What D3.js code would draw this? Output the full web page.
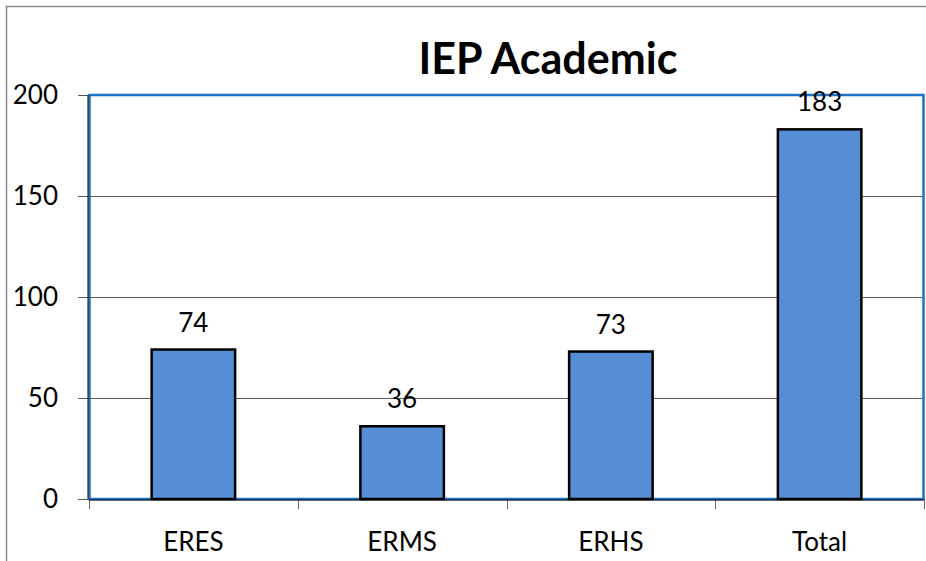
<!DOCTYPE html>
<html>
<head>
<meta charset="utf-8">
<script src="https://d3js.org/d3.v7.min.js"></script>
<style>
    body { margin: 0; background: #fff; }
    svg { display: block; font-family: Lato, "Open Sans", sans-serif; }
    .grid line { stroke: #5a5a5a; stroke-width: 1; shape-rendering: crispEdges; }
    .grid path { stroke-width: 0; }
</style>
</head>
<body>
<svg width="926" height="561"></svg>
<script>
    // chart data
    var categories = ["ERES", "ERMS", "ERHS", "Total"];
    var values = [74, 36, 73, 183];
    var yTicks = [0, 50, 100, 150, 200];
    var title = "IEP Academic";

    var svg = d3.select("svg"),
        margin = { top: 95, right: 2, bottom: 62, left: 89 },
        width = +svg.attr("width") - margin.left - margin.right,
        height = +svg.attr("height") - margin.top - margin.bottom;

    // outer chart frame (left + top edges visible)
    svg.append("path")
        .attr("d", "M6.5,561 V6.5 H926")
        .attr("fill", "none")
        .attr("stroke", "#8c8c8c")
        .attr("stroke-width", 1.5);

    var x = d3.scaleBand()
        .domain(categories)
        .range([0, width])
        .paddingInner(0.6)
        .paddingOuter(0.3);

    // band boundaries for the tick marks
    var step = width / categories.length;

    var y = d3.scaleLinear()
        .domain([0, 200])
        .range([height, 0]);

    var focus = svg.append("g")
        .attr("transform", "translate(" + margin.left + "," + margin.top + ")");

    // grid lines + y labels
    var yAxis = d3.axisLeft(y)
        .tickValues(yTicks)
        .tickSize(-width - 11)
        .tickPadding(20)
        .tickFormat(d3.format("d"));

    var gy = focus.append("g")
        .attr("class", "grid")
        .attr("transform", "translate(" + (-11) + ",0)")
        .call(yAxis);
    gy.select(".domain").remove();
    gy.selectAll("text")
        .attr("x", -20)
        .attr("font-size", 26)
        .attr("fill", "#000")
        .attr("font-family", "Lato, sans-serif");

    // x tick marks at category boundaries
    focus.selectAll(".xtick")
        .data(d3.range(categories.length + 1))
        .enter()
        .append("line")
        .attr("x1", function (i) { return Math.round(i * step) + 0.5; })
        .attr("x2", function (i) { return Math.round(i * step) + 0.5; })
        .attr("y1", height)
        .attr("y2", height + 10)
        .attr("stroke", "#666")
        .attr("stroke-width", 1);

    // plot area border (blue)
    focus.append("rect")
        .attr("x", 0.5)
        .attr("y", 0)
        .attr("width", width - 1)
        .attr("height", height)
        .attr("fill", "none")
        .attr("stroke", "#1a73c7")
        .attr("stroke-width", 2.5);

    // bars
    focus.selectAll(".bar")
        .data(values)
        .enter()
        .append("rect")
        .attr("class", "bar")
        .attr("x", function (d, i) { return x(categories[i]); })
        .attr("y", function (d) { return y(d); })
        .attr("width", x.bandwidth())
        .attr("height", function (d) { return height - y(d); })
        .attr("fill", "#558ed5")
        .attr("stroke", "#000")
        .attr("stroke-width", 2.5);

    // axis lines in black over the blue border
    focus.append("line")
        .attr("x1", -1).attr("x2", -1)
        .attr("y1", 0).attr("y2", height)
        .attr("stroke", "#000").attr("stroke-width", 1);
    focus.append("line")
        .attr("x1", 0).attr("x2", width)
        .attr("y1", height + 1).attr("y2", height + 1)
        .attr("stroke", "#000").attr("stroke-width", 1);

    // value labels
    focus.selectAll(".val")
        .data(values)
        .enter()
        .append("text")
        .attr("x", function (d, i) { return x(categories[i]) + x.bandwidth() / 2; })
        .attr("y", function (d) { return y(d) - 18; })
        .attr("text-anchor", "middle")
        .attr("font-size", 26)
        .attr("fill", "#000")
        .text(function (d) { return d; });

    // category labels
    focus.selectAll(".cat")
        .data(categories)
        .enter()
        .append("text")
        .attr("x", function (d) { return x(d) + x.bandwidth() / 2; })
        .attr("y", height + 52)
        .attr("text-anchor", "middle")
        .attr("font-size", 26)
        .attr("fill", "#000")
        .text(function (d) { return d; });

    // title
    svg.append("text")
        .attr("x", 548)
        .attr("y", 74)
        .attr("text-anchor", "middle")
        .attr("font-size", 43)
        .attr("font-weight", "bold")
        .attr("fill", "#000")
        .text(title);
</script>
</body>
</html>
